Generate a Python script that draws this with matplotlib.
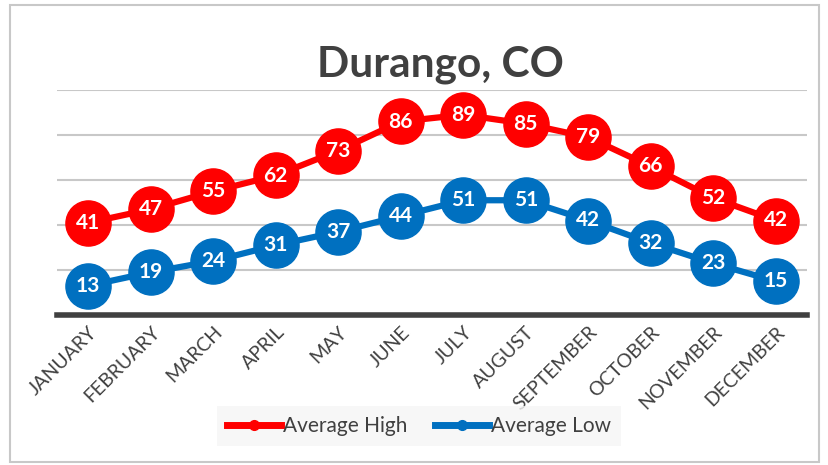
import numpy as np
import matplotlib.pyplot as plt
from matplotlib.patches import Rectangle

months = ["JANUARY", "FEBRUARY", "MARCH", "APRIL", "MAY", "JUNE", "JULY",
          "AUGUST", "SEPTEMBER", "OCTOBER", "NOVEMBER", "DECEMBER"]
avg_high = [41, 47, 55, 62, 73, 86, 89, 85, 79, 66, 52, 42]
avg_low = [13, 19, 24, 31, 37, 44, 51, 51, 42, 32, 23, 15]

plt.rcParams['font.family'] = ['Lato', 'DejaVu Sans']

fig = plt.figure(figsize=(8.29, 4.65), dpi=100)
fig.patches.append(Rectangle((10 / 829, 3 / 465), 809 / 829, 457 / 465,
                             transform=fig.transFigure, fill=False,
                             edgecolor="#c8c8c8", linewidth=1.5))

ax = fig.add_axes([57 / 829, 1 - 315 / 465, 750 / 829, 225 / 465])
x = np.arange(len(months))

for vals, col, lab in [(avg_high, "#ff0000", "Average High"),
                       (avg_low, "#0070c0", "Average Low")]:
    ax.plot(x, vals, color=col, linewidth=4.5, marker="o", markersize=32.5,
            label=lab, zorder=3, clip_on=False)
    for xi, v in zip(x, vals):
        ax.text(xi, v, str(v), color="white", fontsize=15, fontweight="bold",
                ha="center", va="center", zorder=4)

ax.set_xlim(-0.5, len(months) - 0.5)
ax.set_ylim(0, 100)
ax.set_yticks(np.arange(0, 101, 20))
ax.yaxis.grid(True, color="#c8c8c8", linewidth=1.5)
ax.set_axisbelow(True)
ax.tick_params(axis="y", left=False, labelleft=False)
ax.tick_params(axis="x", length=0, pad=6)
ax.set_xticks(x)
ax.set_xticklabels(months, rotation=45, ha="right", rotation_mode="anchor",
                   fontsize=14, color="#404040")
for s in ["top", "right", "left"]:
    ax.spines[s].set_visible(False)
ax.spines["bottom"].set_color("#404040")
ax.spines["bottom"].set_linewidth(4)

fig.text(440 / 829, 1 - 65 / 465, "Durango, CO", ha="center", va="center",
         fontsize=30.5, fontweight="bold", color="#404040")

handles = [plt.Line2D([], [], color=c, linewidth=5, marker="o", markersize=7)
           for c in ["#ff0000", "#0070c0"]]
leg = fig.legend(handles, ["Average High", "Average Low"], loc="center",
                 bbox_to_anchor=(419 / 829, 1 - 426 / 465), ncol=2,
                 frameon=True, fontsize=15, handlelength=2.6, handletextpad=0.1,
                 columnspacing=1.3, borderpad=0.5, borderaxespad=0,
                 fancybox=False)
leg.get_frame().set_facecolor("#f6f6f6")
leg.get_frame().set_edgecolor("none")
for t in leg.get_texts():
    t.set_color("#404040")

fig.savefig("out.png", dpi=100)
